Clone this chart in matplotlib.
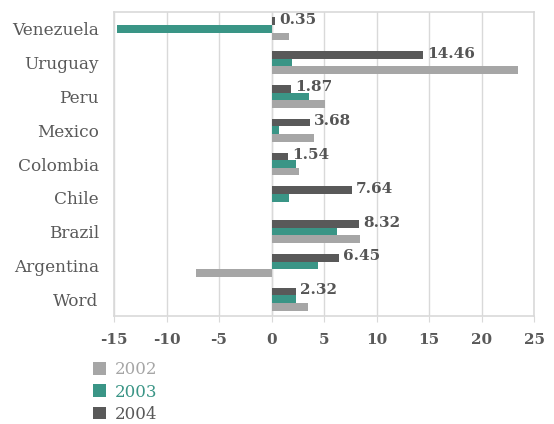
import matplotlib.pyplot as plt
import numpy as np

countries = ['Word', 'Argentina', 'Brazil', 'Chile', 'Colombia', 'Mexico', 'Peru', 'Uruguay', 'Venezuela']
v2002 = [3.5, -7.2, 8.4, 0.0, 2.65, 4.0, 5.1, 23.5, 1.7]
v2003 = [2.35, 4.4, 6.2, 1.7, 2.3, 0.75, 3.6, 1.95, -14.7]
v2004 = [2.32, 6.45, 8.32, 7.64, 1.54, 3.68, 1.87, 14.46, 0.35]

c2002 = '#A6A6A6'
c2003 = '#3A9586'
c2004 = '#595959'
text_col = '#595959'
grid_col = '#D9D9D9'

plt.rcParams['font.family'] = ['DejaVu Serif']
plt.rcParams['axes.unicode_minus'] = False

fig = plt.figure(figsize=(5.54, 4.24), dpi=100)
ax = fig.add_axes([0.2058, 0.2547, 0.7581, 0.717])

y = np.arange(len(countries))
h = 0.225
ax.barh(y - h, v2002, height=h, color=c2002, label='2002', zorder=3)
ax.barh(y, v2003, height=h, color=c2003, label='2003', zorder=3)
ax.barh(y + h, v2004, height=h, color=c2004, label='2004', zorder=3)

# value labels next to the 2004 bars
for yi, v in zip(y, v2004):
    ax.annotate(f'{v:.2f}', xy=(v, yi + h), xytext=(3, 1), textcoords='offset points',
                ha='left', va='center', fontsize=11, color='#555555', fontweight='bold')

ax.set_xlim(-15, 25)
ax.set_ylim(-0.5, len(countries) - 0.5)
ax.set_xticks(np.arange(-15, 26, 5))
ax.set_yticks(y)
ax.set_yticklabels(countries)
ax.grid(axis='x', color=grid_col, linewidth=1, zorder=0)
ax.axvline(0, color=grid_col, linewidth=1, zorder=1)
for s in ax.spines.values():
    s.set_color(grid_col)
    s.set_linewidth(1.2)
ax.tick_params(axis='y', length=0, pad=11, labelsize=12.2, colors=text_col)
ax.tick_params(axis='x', length=4, color=grid_col, pad=8, labelsize=11, colors=text_col)
for lbl in ax.get_xticklabels():
    lbl.set_fontweight('bold')

leg = fig.legend(loc='upper left', bbox_to_anchor=(0.168, 0.148), frameon=False,
                 fontsize=12, handlelength=0.8, handleheight=0.8, handletextpad=0.5,
                 labelspacing=0.32, borderpad=0, borderaxespad=0)
for t, c in zip(leg.get_texts(), [c2002, c2003, c2004]):
    t.set_color(c)

fig.savefig('out.png', dpi=100)
